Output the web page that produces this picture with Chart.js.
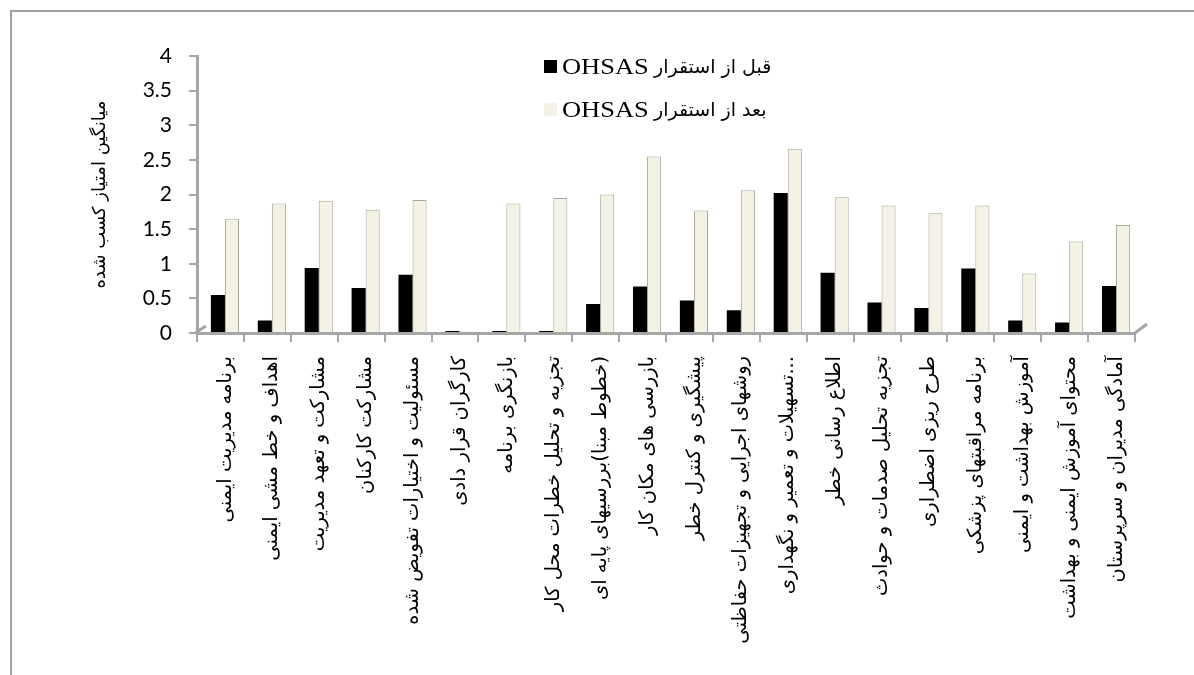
<!DOCTYPE html>
<html><head><meta charset="utf-8">
<script src="https://cdn.jsdelivr.net/npm/chart.js@4/dist/chart.umd.min.js"></script>
<style>html,body{margin:0;padding:0;background:#fff}#wrap{width:1194px;height:675px;position:relative}</style>
</head><body><div id="wrap"><canvas id="c" width="1194" height="675"></canvas></div>
<script>
const categories = [
  "برنامه مدیریت ایمنی",
  "اهداف و خط مشی ایمنی",
  "مشارکت و تعهد مدیریت",
  "مشارکت کارکنان",
  "مسئولیت و اختیارات تفویض شده",
  "کارگران قرار دادی",
  "بازنگری برنامه",
  "تجزیه و تحلیل خطرات محل کار",
  "\u200F(خطوط مبنا)بررسیهای پایه ای",
  "بازرسی های مکان کار",
  "پیشگیری و کنترل خطر",
  "روشهای اجرایی و تجهیزات حفاظتی",
  "تسهیلات و تعمیر و نگهداری...",
  "اطلاع رسانی خطر",
  "تجزیه تحلیل صدمات و حوادث",
  "طرح ریزی اضطراری",
  "برنامه مراقبتهای پزشکی",
  "آموزش بهداشت و ایمنی",
  "محتوای آموزش ایمنی و بهداشت",
  "آمادگی مدیران و سرپرستان"
];
const beforeValues = [0.55,0.18,0.94,0.65,0.84,0.03,0.03,0.03,0.42,0.67,0.47,0.33,2.02,0.87,0.44,0.36,0.93,0.18,0.15,0.68];
const afterValues  = [1.65,1.87,1.91,1.78,1.92,0.02,1.87,1.95,2.00,2.55,1.77,2.06,2.66,1.96,1.84,1.73,1.84,0.86,1.32,1.56];
const seriesLabels = ["قبل از استقرار OHSAS", "بعد از استقرار OHSAS"];
const yAxisTitle = "میانگین امتیاز کسب شده";
const yMin = 0, yMax = 4, yStep = 0.5;

const AXIS = '#A6A6A6';

const depthPlugin = {
  id: 'depth',
  beforeDatasetsDraw(chart) { chart.ctx.save(); chart.ctx.translate(4.5, 0); },
  afterDatasetsDraw(chart) { chart.ctx.restore(); }
};

const framePlugin = {
  id: 'frame',
  beforeDraw(chart) {
    const ctx = chart.ctx;
    ctx.save();
    ctx.strokeStyle = '#A0A0A0';
    ctx.lineWidth = 2;
    ctx.beginPath();
    ctx.moveTo(1194, 11); ctx.lineTo(11, 11); ctx.lineTo(11, 675);
    ctx.stroke();
    ctx.restore();
  },
  afterDraw(chart) {
    const ctx = chart.ctx, a = chart.chartArea;
    ctx.save();
    ctx.strokeStyle = AXIS; ctx.lineWidth = 3;
    ctx.beginPath();
    ctx.moveTo(a.left - 2, a.bottom); ctx.lineTo(a.left + 9, a.bottom - 7);
    ctx.moveTo(a.right, a.bottom); ctx.lineTo(a.right + 12, a.bottom - 9);
    ctx.stroke();
    // legend
    const ds = chart.data.datasets;
    const rows = [66, 109];
    ds.forEach((d, i) => {
      const y = rows[i];
      ctx.fillStyle = d.backgroundColor;
      ctx.fillRect(544, y - 6, 13, 13);
      const m = d.label.match(/^(.*?)\s*([A-Za-z]+)$/);
      const fa = m ? m[1] : d.label, en = m ? m[2] : '';
      ctx.fillStyle = '#000';
      ctx.textBaseline = 'alphabetic';
      ctx.textAlign = 'left';
      ctx.save();
      ctx.translate(562, y + 8);
      ctx.scale(1.15, 1);
      ctx.font = '23px "Liberation Serif", serif';
      ctx.fillText(en, 0, 0);
      ctx.restore();
      ctx.direction = 'rtl';
      ctx.font = '19px "DejaVu Sans", sans-serif';
      ctx.fillText(fa, 654, y + 7);
      ctx.direction = 'ltr';
    });
    ctx.restore();
  }
};

new Chart(document.getElementById('c'), {
  type: 'bar',
  data: {
    labels: categories,
    datasets: [
      { label: seriesLabels[0], data: beforeValues, backgroundColor: '#000000', borderWidth: 0 },
      { label: seriesLabels[1], data: afterValues, backgroundColor: '#F4F2E4', borderColor: '#A9A69A', borderWidth: 1 }
    ]
  },
  options: {
    responsive: false,
    animation: false,
    devicePixelRatio: 1,
    datasets: { bar: { barPercentage: 1.0, categoryPercentage: 0.6 } },
    layout: { padding: { left: 80, right: 59, top: 56, bottom: 0 } },
    plugins: { legend: { display: false }, tooltip: { enabled: false } },
    scales: {
      y: {
        min: yMin, max: yMax,
        afterFit(s) { s.width = 117; },
        ticks: { stepSize: yStep, color: '#000', font: { family: 'Lato', size: 21 }, padding: 17,
                 callback: (v) => String(+v) },
        grid: { drawOnChartArea: false, drawTicks: true, tickLength: 8, color: AXIS, lineWidth: 2 },
        border: { color: AXIS, width: 3 },
        title: { display: true, text: yAxisTitle, color: '#000', font: { family: 'DejaVu Sans', size: 18 }, padding: { top: 10, bottom: 0 } }
      },
      x: {
        afterFit(s) { s.height = 342; },
        ticks: { autoSkip: false, maxRotation: 90, minRotation: 90, color: '#000', font: { family: 'DejaVu Sans', size: 19.5 }, padding: 14, labelOffset: 5 },
        grid: { drawOnChartArea: false, offset: true, tickLength: 9, color: AXIS, lineWidth: 2 },
        border: { color: AXIS, width: 3 }
      }
    }
  },
  plugins: [framePlugin, depthPlugin]
});
</script>
</body></html>
